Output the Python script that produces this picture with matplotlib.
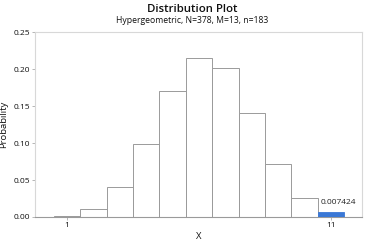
import matplotlib
matplotlib.use("Agg")
import matplotlib.pyplot as plt

# Distribution plot data
x_vals = [1, 2, 3, 4, 5, 6, 7, 8, 9, 10, 11]
probs = [0.0013, 0.0108, 0.0405, 0.0986, 0.1707, 0.2150, 0.2013, 0.1405, 0.0711, 0.0257, 0.007424]
shaded_x = [11]
shaded_label = "0.007424"
x_ticks = [1, 11]
y_ticks = [0.0, 0.05, 0.10, 0.15, 0.20, 0.25]

plt.rcParams['font.family'] = ['Open Sans', 'DejaVu Sans']

fig = plt.figure(figsize=(3.73, 2.43), dpi=100)
ax = fig.add_axes([0.094, 0.107, 0.876, 0.761])

# plain bars, highlighted tail bar in blue
for xv, p in zip(x_vals, probs):
    if xv in shaded_x:
        ax.bar(xv, p, width=1.0, color='#3a78d6', edgecolor='#3a78d6', linewidth=0.6, zorder=3)
    else:
        ax.bar(xv, p, width=1.0, color='white', edgecolor='#9a9a9a', linewidth=0.7, zorder=2)

ax.text(11.28, 0.019, shaded_label, ha='center', va='center', fontsize=6, color='#222222')

ax.set_xlim(-0.21, 12.17)
ax.set_ylim(0, 0.25)
ax.set_xticks(x_ticks)
ax.set_yticks(y_ticks)
ax.set_yticklabels(['%.2f' % v for v in y_ticks])
ax.tick_params(axis='both', labelsize=6, length=2, width=0.5, colors='#9a9a9a', labelcolor='#111111', pad=1.5)

for s in ax.spines.values():
    s.set_color('#d8d8d8')
    s.set_linewidth(0.8)
ax.spines['bottom'].set_color('#9a9a9a')

ax.set_xlabel('X', fontsize=6.8, color='#111111', labelpad=2)
ax.set_ylabel('Probability', fontsize=6.8, color='#111111', labelpad=4)

fig.text(0.515, 0.962, 'Distribution Plot', ha='center', va='center', fontsize=8.2, fontweight='semibold', color='#111111')
fig.text(0.515, 0.915, 'Hypergeometric, N=378, M=13, n=183', ha='center', va='center', fontsize=6.2, color='#111111')

fig.savefig('out.png', dpi=100)
